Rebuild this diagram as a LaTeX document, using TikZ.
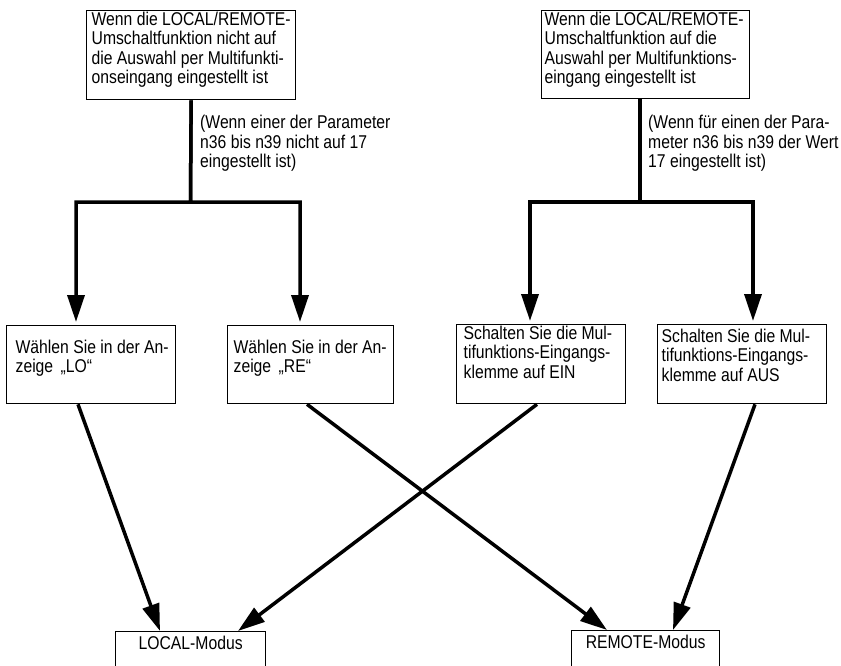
\documentclass[tikz,border=0pt]{standalone}
\usepackage{fontspec}
\setmainfont{Liberation Sans}[FakeStretch=0.85]
\usetikzlibrary{arrows.meta,calc}

% fixed-size text block, top aligned, lines never rewrapped
\newcommand{\fbody}[3]{\begin{minipage}[t][#2][t]{#1}\begin{tabular}[t]{@{}l@{}}#3\end{tabular}\end{minipage}}
\newcommand{\diafont}{\fontsize{18.5}{19.5}\selectfont}

\begin{document}
\begin{tikzpicture}[x=1pt,y=-1pt,
  box/.style={draw, line width=1.3pt, anchor=north west, font=\diafont},
  note/.style={anchor=north west, inner sep=0pt, align=left, font=\diafont},
  arr/.style={line width=3.5pt, line join=miter, -{Triangle[length=27pt,width=17pt]}}]
\useasboundingbox (0,0) rectangle (841,666);

% condition boxes
\node[box, inner xsep=5pt, inner ysep=1pt] (tl) at (86,10)
  {\fbody{199pt}{87pt}{Wenn die LOCAL/REMOTE-\\Umschaltfunktion nicht auf\\die Auswahl per Multifunkti-\\onseingang eingestellt ist}};
\node[box, inner xsep=3pt, inner ysep=1pt] (tr) at (541,10)
  {\fbody{202pt}{86pt}{Wenn die LOCAL/REMOTE-\\Umschaltfunktion auf die\\Auswahl per Multifunktions-\\eingang eingestellt ist}};

% parameter notes
\node[note] (nl) at (200,115) {(Wenn einer der Parameter\\n36 bis n39 nicht auf 17\\eingestellt ist)};
\node[note] (nr) at (648,115) {(Wenn für einen der Para-\\meter n36 bis n39 der Wert\\17 eingestellt ist)};

% action boxes
\node[box, inner xsep=9pt, inner ysep=14pt] (lo) at (6,325)
  {\fbody{151pt}{50pt}{Wählen Sie in der An-\\zeige \,„LO“}};
\node[box, inner xsep=6pt, inner ysep=14pt] (re) at (227,325)
  {\fbody{154pt}{50pt}{Wählen Sie in der An-\\zeige \,„RE“}};
\node[box, inner xsep=7pt, inner ysep=1pt] (ein) at (456,324)
  {\fbody{155pt}{77pt}{Schalten Sie die Mul-\\tifunktions-Eingangs-\\klemme auf EIN}};
\node[box, inner xsep=4pt, inner ysep=4pt] (aus) at (657,324)
  {\fbody{161pt}{71pt}{Schalten Sie die Mul-\\tifunktions-Eingangs-\\klemme auf AUS}};

% mode boxes
\node[box, inner xsep=0pt, inner ysep=4pt] (local) at (115,631)
  {\begin{minipage}[t][60pt][t]{150pt}\centering LOCAL-Modus\par\end{minipage}};
\node[box, inner xsep=0pt, inner ysep=4pt] (remote) at (571,630)
  {\begin{minipage}[t][60pt][t]{148pt}\centering REMOTE-Modus\par\end{minipage}};

% branch points
\coordinate (bl) at (190.5,202);
\coordinate (bll) at (76,202);
\coordinate (blr) at (300,202);
\coordinate (br) at (640,202);
\coordinate (brl) at (530,202);
\coordinate (brr) at (753,202);

% branching connectors
\draw[arr] (tl.south) -- (bl) -- (bll) -- ([yshift=3pt]bll |- lo.north);
\draw[arr] (tl.south) -- (bl) -- (blr) -- ([yshift=3pt]blr |- re.north);
\draw[arr] (br |- tr.south) -- (br) -- (brl) -- ([yshift=3pt]brl |- ein.north);
\draw[arr] (br |- tr.south) -- (br) -- (brr) -- ([yshift=3pt]brr |- aus.north);

% connectors to the modes
\draw[arr] ($(lo.south west)+(72,0)$) -- ($(local.north west)+(45,0)$);
\draw[arr] ($(re.south west)+(80,0)$) -- ($(remote.north west)+(36,0)$);
\draw[arr] ($(ein.south west)+(81,0)$) -- ($(local.north west)+(123,0)$);
\draw[arr] ($(aus.south west)+(98,0)$) -- ($(remote.north west)+(102,0)$);
\end{tikzpicture}
\end{document}
